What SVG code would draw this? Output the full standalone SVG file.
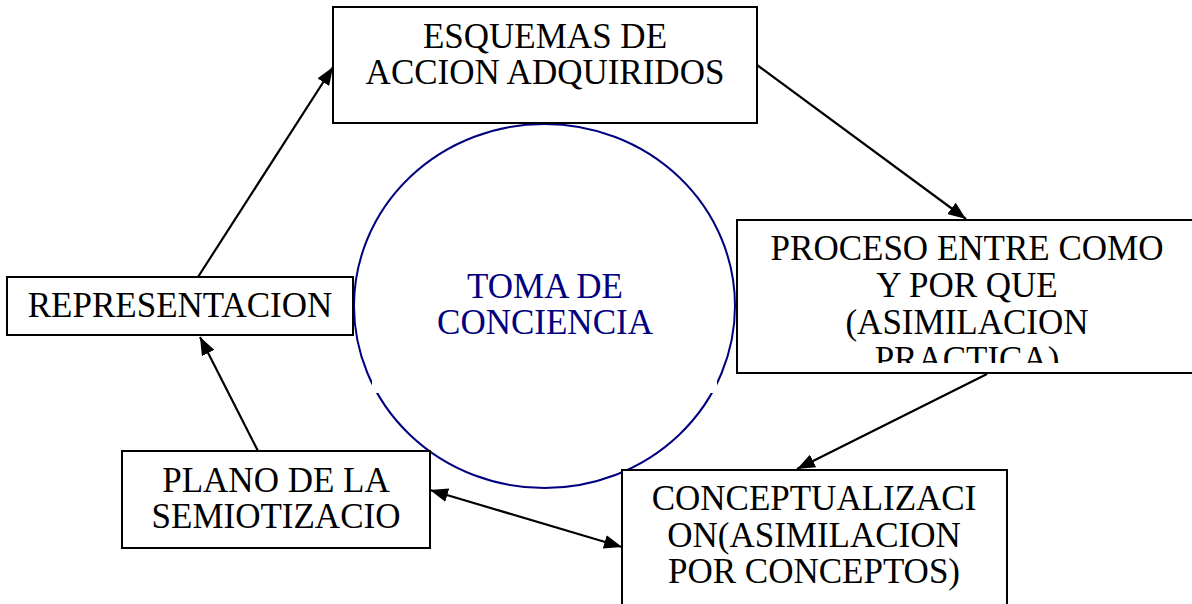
<svg xmlns="http://www.w3.org/2000/svg" width="1192" height="604" viewBox="0 0 1192 604">
<style>
.box{fill:#fff;stroke:#000;stroke-width:2}
.t{font-family:"Liberation Serif","Times New Roman",serif;font-size:35px;fill:#000;text-anchor:middle}
.c{fill:#000080}
.ln{stroke:#000;stroke-width:2.2;fill:none}
</style>
<defs>
<marker id="ah" viewBox="0 0 18 14" refX="18" refY="7" markerWidth="18" markerHeight="14" markerUnits="userSpaceOnUse" orient="auto-start-reverse">
<path d="M0,0 L18,7 L0,14 Z" fill="#000"/>
</marker>
<clipPath id="clipP"><rect x="737" y="220" width="460" height="143"/></clipPath>
</defs>
<rect width="1192" height="604" fill="#fff"/>
<g id="toma">
<ellipse cx="544.5" cy="306" rx="190.5" ry="182" fill="#fff" stroke="#000080" stroke-width="2"/>
<rect x="372" y="240" width="345" height="153" fill="#fff"/>
<text class="t c" x="545" y="298">TOMA DE</text>
<text class="t c" x="545" y="334">CONCIENCIA</text>
</g>
<g id="esquemas">
<rect class="box" x="333" y="7" width="424" height="116"/>
<text class="t" x="545" y="48">ESQUEMAS DE</text>
<text class="t" x="545" y="84">ACCION ADQUIRIDOS</text>
</g>
<g id="proceso">
<rect class="box" x="737" y="220" width="460" height="153"/>
<g clip-path="url(#clipP)">
<text class="t" x="967" y="260">PROCESO ENTRE COMO</text>
<text class="t" x="967" y="297">Y POR QUE</text>
<text class="t" x="967" y="334">(ASIMILACION</text>
<text class="t" x="967" y="371">PRACTICA)</text>
</g>
</g>
<g id="representacion">
<rect class="box" x="7" y="277" width="346" height="58"/>
<text class="t" x="180" y="317">REPRESENTACION</text>
</g>
<g id="plano">
<rect class="box" x="122" y="451" width="308" height="97"/>
<text class="t" x="276" y="492">PLANO DE LA</text>
<text class="t" x="276" y="528">SEMIOTIZACIO</text>
</g>
<g id="conceptualizacion">
<rect class="box" x="622" y="470" width="385" height="150"/>
<text class="t" x="814" y="510">CONCEPTUALIZACI</text>
<text class="t" x="814" y="547">ON(ASIMILACION</text>
<text class="t" x="814" y="583">POR CONCEPTOS)</text>
</g>
<g id="connectors">
<line class="ln" x1="198" y1="277" x2="333" y2="67" marker-end="url(#ah)"/>
<line class="ln" x1="757" y1="65" x2="966" y2="219" marker-end="url(#ah)"/>
<line class="ln" x1="987" y1="374" x2="797" y2="469" marker-end="url(#ah)"/>
<line class="ln" x1="430" y1="490" x2="622" y2="547" marker-start="url(#ah)" marker-end="url(#ah)"/>
<line class="ln" x1="258" y1="451" x2="200" y2="337" marker-end="url(#ah)"/>
</g>
</svg>
